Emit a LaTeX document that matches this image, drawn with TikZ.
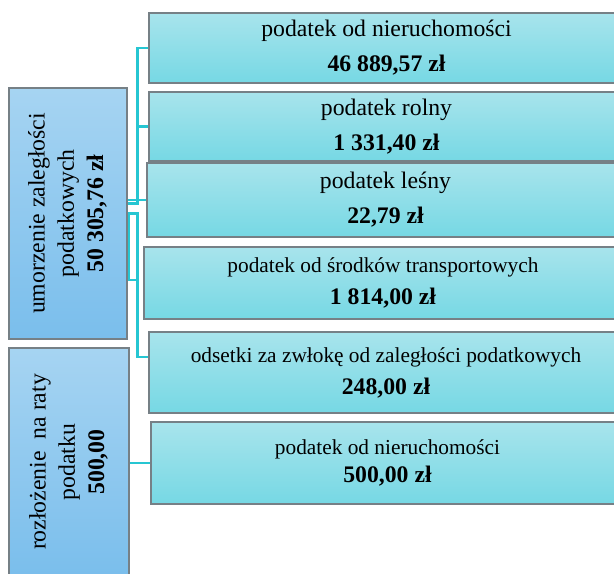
\documentclass[tikz,border=0pt]{standalone}
\usepackage{fontspec}
\setmainfont{Liberation Serif}

\definecolor{boxline}{RGB}{118,128,134}
\definecolor{linkcol}{RGB}{38,198,210}
\definecolor{sumtop}{RGB}{166,212,242}
\definecolor{sumbot}{RGB}{122,190,236}
\definecolor{itemtop}{RGB}{168,228,236}
\definecolor{itembot}{RGB}{118,216,228}

\newcommand{\smallline}[1]{{\fontsize{16}{24}\selectfont #1}}

\begin{document}
\begin{tikzpicture}[x=0.75pt, y=-0.75pt,
    sumbox/.style={draw=boxline, line width=0.9pt, top color=sumtop, bottom color=sumbot, inner sep=0pt, font=\fontsize{17.8}{22}\selectfont},
    itembox/.style={draw=boxline, line width=0.9pt, top color=itemtop, bottom color=itembot, inner sep=0pt, align=center},
    bigtxt/.style={font=\fontsize{17.8}{26.25}\selectfont},
    smalltxt/.style={font=\fontsize{17.8}{24}\selectfont},
    link/.style={draw=linkcol, line width=1.8pt}]
    \useasboundingbox (0,0) rectangle (614,574);
    \clip (0,0) rectangle (614,574);

    % Draw nodes
    \node[sumbox, minimum width=88.5pt, minimum height=188.25pt] (umorzenie) at (68,213.5)
        {\rotatebox{90}{\begin{tabular}{@{}c@{}}umorzenie zaległości\\podatkowych\\\textbf{50 305,76 zł}\end{tabular}}};
    \node[sumbox, minimum width=90pt, minimum height=171pt] (raty) at (69,462)
        {\rotatebox{90}{\begin{tabular}{@{}c@{}}rozłożenie\ \ na raty\\podatku\\\textbf{500,00}\end{tabular}}};

    \node[itembox, bigtxt, minimum width=356.25pt, minimum height=52.5pt] (nier) at (386.5,48) {podatek od nieruchomości\\\textbf{46 889,57 zł}};
    \node[itembox, bigtxt, minimum width=356.25pt, minimum height=51.75pt] (rolny) at (386.5,126.5) {podatek rolny\\\textbf{1 331,40 zł}};
    \node[itembox, bigtxt, minimum width=357.75pt, minimum height=55.5pt] (lesny) at (385.5,200) {podatek leśny\\\textbf{22,79 zł}};
    \node[itembox, smalltxt, minimum width=358.5pt, minimum height=54pt] (transport) at (383,283) {\smallline{podatek od środków transportowych}\\\textbf{1 814,00 zł}};
    \node[itembox, smalltxt, minimum width=355.5pt, minimum height=60.75pt] (odsetki) at (386,372.5) {\smallline{odsetki za zwłokę od zaległości podatkowych}\\\textbf{248,00 zł}};
    \node[itembox, smalltxt, minimum width=354.75pt, minimum height=61.5pt, font=\fontsize{17.8}{21.5}\selectfont] (nierraty) at (387.5,463) {\smallline{podatek od nieruchomości}\\\textbf{500,00 zł}};

    % Draw connections
    \draw[link] ([yshift=7.5pt]umorzenie.east) -- ++(7.5pt,0) |- (nier.west);
    \draw[link] (rolny.west) -- ++(-9pt,0);
    \draw[link] (umorzenie.east |- lesny.west) -- (lesny.west);
    \draw[link] (umorzenie.east) -- ++(7.5pt,0) |- ([yshift=11.6pt]odsetki.west);
    \draw[link] ([xshift=1pt]umorzenie.east) -- ++(0,-50pt) -- ++(6.5pt,0);
    \draw[link] (raty.east |- nierraty.west) -- (nierraty.west);
\end{tikzpicture}
\end{document}
